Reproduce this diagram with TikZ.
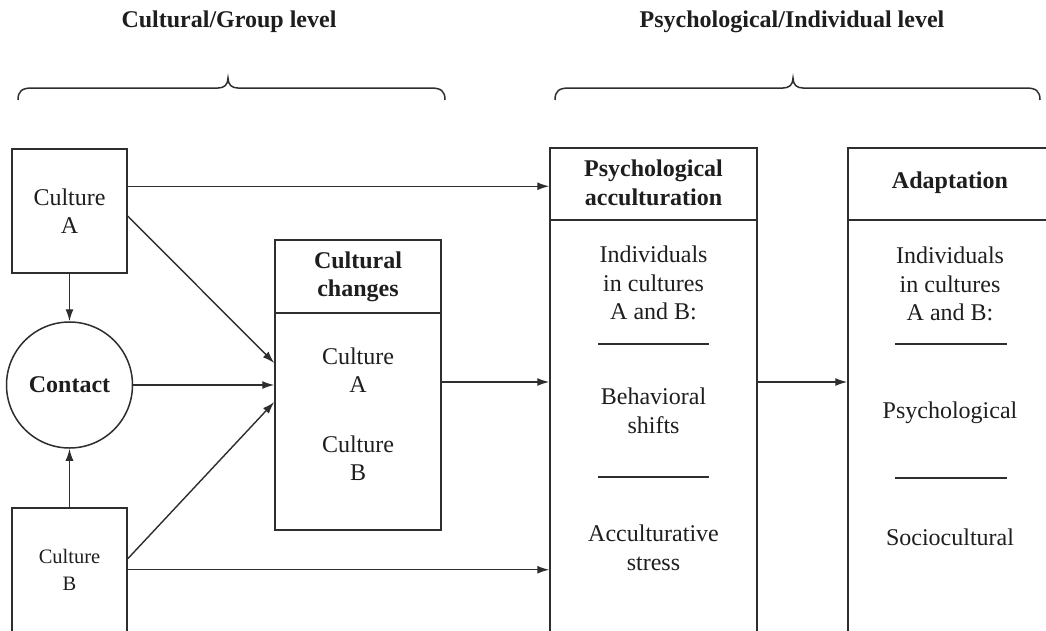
\documentclass[tikz,border=0pt]{standalone}
\usepackage{fontspec}
\setmainfont{Liberation Serif}
\usetikzlibrary{arrows.meta,calc}
\definecolor{ink}{HTML}{1E1E1E}
\definecolor{linec}{HTML}{2E2E2E}
\tikzset{
  every node/.style={text=ink, font=\fontsize{24}{28.5}\selectfont, align=center, inner sep=0pt},
  box/.style={draw=linec, line width=1.5pt, fill=none},
  arr/.style={draw=linec, line width=1.4pt, -{Latex[length=12pt,width=8pt]}},
  rule/.style={draw=linec, line width=1.5pt},
  head/.style={font=\fontsize{24}{28.5}\selectfont\bfseries},
  brc/.style={draw=linec, line width=1.5pt},
}
\begin{document}
\begin{tikzpicture}[x=1pt,y=-1pt]
\useasboundingbox (0,0) rectangle (1046,630);
\fill[white] (0,0) rectangle (1046,630);

% level labels
\node[head] (lgrp) at (229,22) {Cultural/Group level};
\node[head] (lind) at (792,22) {Psychological/Individual level};

% braces
\draw[brc] (18,100) .. controls (18,91) and (22,88) .. (32,88) -- (218,88)
  .. controls (224,88) and (228,85) .. (228,78) .. controls (228,85) and (232,88) .. (238,88)
  -- (431,88) .. controls (441,88) and (445,91) .. (445,100);
\draw[brc] (555,100) .. controls (555,91) and (559,88) .. (569,88) -- (783,88)
  .. controls (789,88) and (793,85) .. (793,78) .. controls (793,85) and (797,88) .. (803,88)
  -- (1026,88) .. controls (1036,88) and (1040,91) .. (1040,100);

% left column
\node[box, minimum width=115pt, minimum height=124pt] (ca) at (69.5,211) {Culture\\A};
\node[box, circle, minimum size=126pt, font=\fontsize{24}{28.5}\selectfont\bfseries] (ct) at (69.5,385) {Contact};
\node[box, minimum width=115pt, minimum height=124pt, anchor=north,
      font=\fontsize{20.5}{27}\selectfont] (cb) at (69.5,507) {Culture\\B};

% cultural changes
\node[box, minimum width=166pt, minimum height=290pt] (cc) at (358,385) {};
\draw[rule] (275,313) -- (441,313);
\node[head] (cch) at (358,277) {Cultural\\changes};
\node (cca) at (358,370) {Culture\\A};
\node (ccb) at (358,458) {Culture\\B};

% psychological acculturation
\node[box, minimum width=207pt, minimum height=500pt, anchor=north] (pa) at (653.5,147) {};
\draw[rule] (550,220) -- (757,220);
\node[head] (pah) at (653.5,183) {Psychological\\acculturation};
\node (pa1) at (653.5,283) {Individuals\\in cultures\\A and B:};
\draw[rule] (598,344) -- (709,344);
\node (pa2) at (653.5,411) {Behavioral\\shifts};
\draw[rule] (598,477) -- (709,477);
\node (pa3) at (653.5,548) {Acculturative\\stress};

% adaptation
\node[box, minimum width=204pt, minimum height=500pt, anchor=north] (ad) at (950,147) {};
\draw[rule] (848,220) -- (1052,220);
\node[head] (adh) at (950,183) {Adaptation};
\node (ad1) at (950,284) {Individuals\\in cultures\\A and B:};
\draw[rule] (895,344) -- (1007,344);
\node (ad2) at (950,413) {Psychological};
\draw[rule] (895,478) -- (1007,478);
\node (ad3) at (950,537) {Sociocultural};

% connectors
\coordinate (a1) at ([yshift=-38pt]ca.north east);
\draw[arr] (a1) -- (a1 -| pa.west);
\draw[arr] ([yshift=-5pt]ca.east) -- ([yshift=22pt]cc.west);
\draw[arr] (ct.east) -- (ct.east -| cc.west);
\draw[arr] ([yshift=11pt]cb.east) -- ([yshift=-17pt]cc.west);
\draw[arr] (cb.east) -- (cb.east -| pa.west);
\draw[arr] (ca.south) -- (ct.north);
\draw[arr] (cb.north) -- (ct.south);
\coordinate (c1) at ([yshift=3pt]cc.east);
\draw[arr] (c1) -- (c1 -| pa.west);
\coordinate (p1) at (c1 -| pa.east);
\draw[arr] (p1) -- (p1 -| ad.west);
\end{tikzpicture}
\end{document}
